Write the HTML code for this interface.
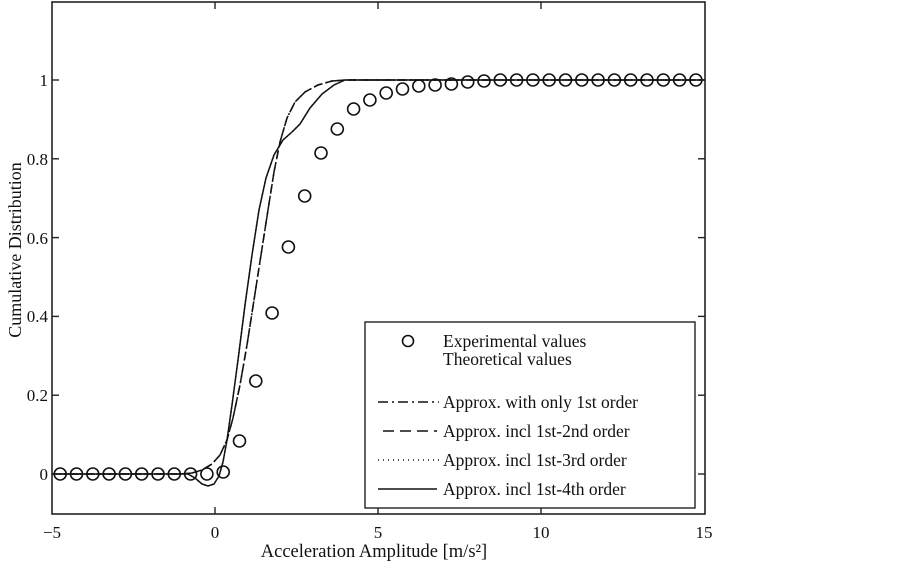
<!DOCTYPE html>
<html><head><meta charset="utf-8"><style>
html,body{margin:0;padding:0;background:#fff;width:903px;height:562px;overflow:hidden}
text{font-family:"Liberation Serif",serif;fill:#111}
</style></head><body>
<svg width="903" height="562" viewBox="0 0 903 562" xmlns="http://www.w3.org/2000/svg">
<rect x="0" y="0" width="903" height="562" fill="#fff"/>
<g fill="none" stroke="#111" stroke-width="1.5">
<path d="M52,474 L180,474 L192,473 L202,470 L212,464 L220,455 L227,440 L233,418 L240,385 L247,345 L254,300 L261,255 L268,210 L274,172 L280,142 L287,118 L295,102 L305,92 L318,85 L332,81 L345,80 L705,80" stroke-dasharray="9,3,2,3"/>
<path d="M52,474 L180,474 L192,473 L202,470 L212,464 L220,455 L227,440 L233,418 L240,385 L247,345 L254,300 L261,255 L268,210 L274,172 L280,142 L287,118 L295,102 L305,92 L318,85 L332,81 L345,80 L705,80" stroke-dasharray="8,4" stroke-dashoffset="3"/>
<path d="M52,474 L188,474 L195,478 L202,484 L208,486 L214,484 L219,476 L223,462 L227,440 L232,405 L238,360 L245,305 L252,255 L259,210 L266,178 L274,155 L283,140 L292,132 L300,124 L310,108 L322,94 L334,85 L345,80 L705,80"/>
<path d="M52,474 L188,474 L195,478 L202,484 L208,486 L214,484 L219,476 L223,462 L227,440 L232,405 L238,360 L245,305 L252,255 L259,210 L266,178 L274,155 L283,140 L292,132 L300,124 L310,108 L322,94 L334,85 L345,80 L705,80" stroke-dasharray="1,3"/>
</g>
<g fill="none" stroke="#111" stroke-width="1.6">
<circle cx="60.2" cy="474" r="6"/><circle cx="76.5" cy="474" r="6"/><circle cx="92.8" cy="474" r="6"/><circle cx="109.1" cy="474" r="6"/><circle cx="125.4" cy="474" r="6"/><circle cx="141.7" cy="474" r="6"/><circle cx="158" cy="474" r="6"/><circle cx="174.3" cy="474" r="6"/><circle cx="190.6" cy="474" r="6"/><circle cx="206.9" cy="474" r="6"/><circle cx="223.2" cy="472" r="6"/><circle cx="239.5" cy="441" r="6"/><circle cx="255.8" cy="381" r="6"/><circle cx="272.1" cy="313" r="6"/><circle cx="288.4" cy="247" r="6"/><circle cx="304.7" cy="196" r="6"/><circle cx="321" cy="153" r="6"/><circle cx="337.3" cy="129" r="6"/><circle cx="353.6" cy="109" r="6"/><circle cx="369.9" cy="100" r="6"/><circle cx="386.2" cy="93" r="6"/><circle cx="402.5" cy="89" r="6"/><circle cx="418.8" cy="86" r="6"/><circle cx="435.1" cy="85" r="6"/><circle cx="451.4" cy="84" r="6"/><circle cx="467.7" cy="82" r="6"/><circle cx="484" cy="81" r="6"/><circle cx="500.3" cy="80" r="6"/><circle cx="516.6" cy="80" r="6"/><circle cx="532.9" cy="80" r="6"/><circle cx="549.2" cy="80" r="6"/><circle cx="565.5" cy="80" r="6"/><circle cx="581.8" cy="80" r="6"/><circle cx="598.1" cy="80" r="6"/><circle cx="614.4" cy="80" r="6"/><circle cx="630.7" cy="80" r="6"/><circle cx="647" cy="80" r="6"/><circle cx="663.3" cy="80" r="6"/><circle cx="679.6" cy="80" r="6"/><circle cx="695.9" cy="80" r="6"/>
</g>
<rect x="52" y="2" width="653" height="512" fill="none" stroke="#222" stroke-width="1.6"/>
<g stroke="#222" stroke-width="1.4">
<line x1="215" y1="514" x2="215" y2="507"/><line x1="378" y1="514" x2="378" y2="507"/><line x1="541" y1="514" x2="541" y2="507"/>
<line x1="215" y1="2" x2="215" y2="9"/><line x1="378" y1="2" x2="378" y2="9"/><line x1="541" y1="2" x2="541" y2="9"/>
<line x1="52" y1="474" x2="59" y2="474"/><line x1="52" y1="395.2" x2="59" y2="395.2"/><line x1="52" y1="316.4" x2="59" y2="316.4"/><line x1="52" y1="237.6" x2="59" y2="237.6"/><line x1="52" y1="158.8" x2="59" y2="158.8"/><line x1="52" y1="80" x2="59" y2="80"/>
<line x1="705" y1="474" x2="698" y2="474"/><line x1="705" y1="395.2" x2="698" y2="395.2"/><line x1="705" y1="316.4" x2="698" y2="316.4"/><line x1="705" y1="237.6" x2="698" y2="237.6"/><line x1="705" y1="158.8" x2="698" y2="158.8"/><line x1="705" y1="80" x2="698" y2="80"/>
</g>
<g font-size="17" text-anchor="end">
<text x="48" y="480">0</text><text x="48" y="401">0.2</text><text x="48" y="322">0.4</text><text x="48" y="244">0.6</text><text x="48" y="165">0.8</text><text x="48" y="86">1</text>
</g>
<g font-size="17" text-anchor="middle">
<text x="52" y="538">−5</text><text x="215" y="538">0</text><text x="378" y="538">5</text><text x="541" y="538">10</text><text x="704" y="538">15</text>
</g>
<text x="374" y="557" font-size="18.5" text-anchor="middle">Acceleration Amplitude [m/s²]</text>
<text transform="translate(21,250) rotate(-90)" font-size="18" text-anchor="middle">Cumulative Distribution</text>
<rect x="365" y="322" width="330" height="186" fill="#fff" stroke="#222" stroke-width="1.4"/>
<circle cx="408" cy="341" r="5.5" fill="none" stroke="#111" stroke-width="1.6"/>
<g font-size="17.5">
<text x="443" y="347">Experimental values</text>
<text x="443" y="365">Theoretical values</text>
<text x="443" y="408">Approx. with only 1st order</text>
<text x="443" y="437">Approx. incl  1st-2nd order</text>
<text x="443" y="466">Approx. incl  1st-3rd order</text>
<text x="443" y="495">Approx. incl  1st-4th order</text>
</g>
<g stroke="#111" stroke-width="1.5" fill="none">
<line x1="378" y1="402" x2="439" y2="402" stroke-dasharray="10,4,2,4"/>
<line x1="383" y1="431" x2="437" y2="431" stroke-dasharray="11,6"/>
<line x1="378" y1="460" x2="439" y2="460" stroke-dasharray="1,4"/>
<line x1="378" y1="489" x2="437" y2="489"/>
</g>
</svg>
</body></html>
